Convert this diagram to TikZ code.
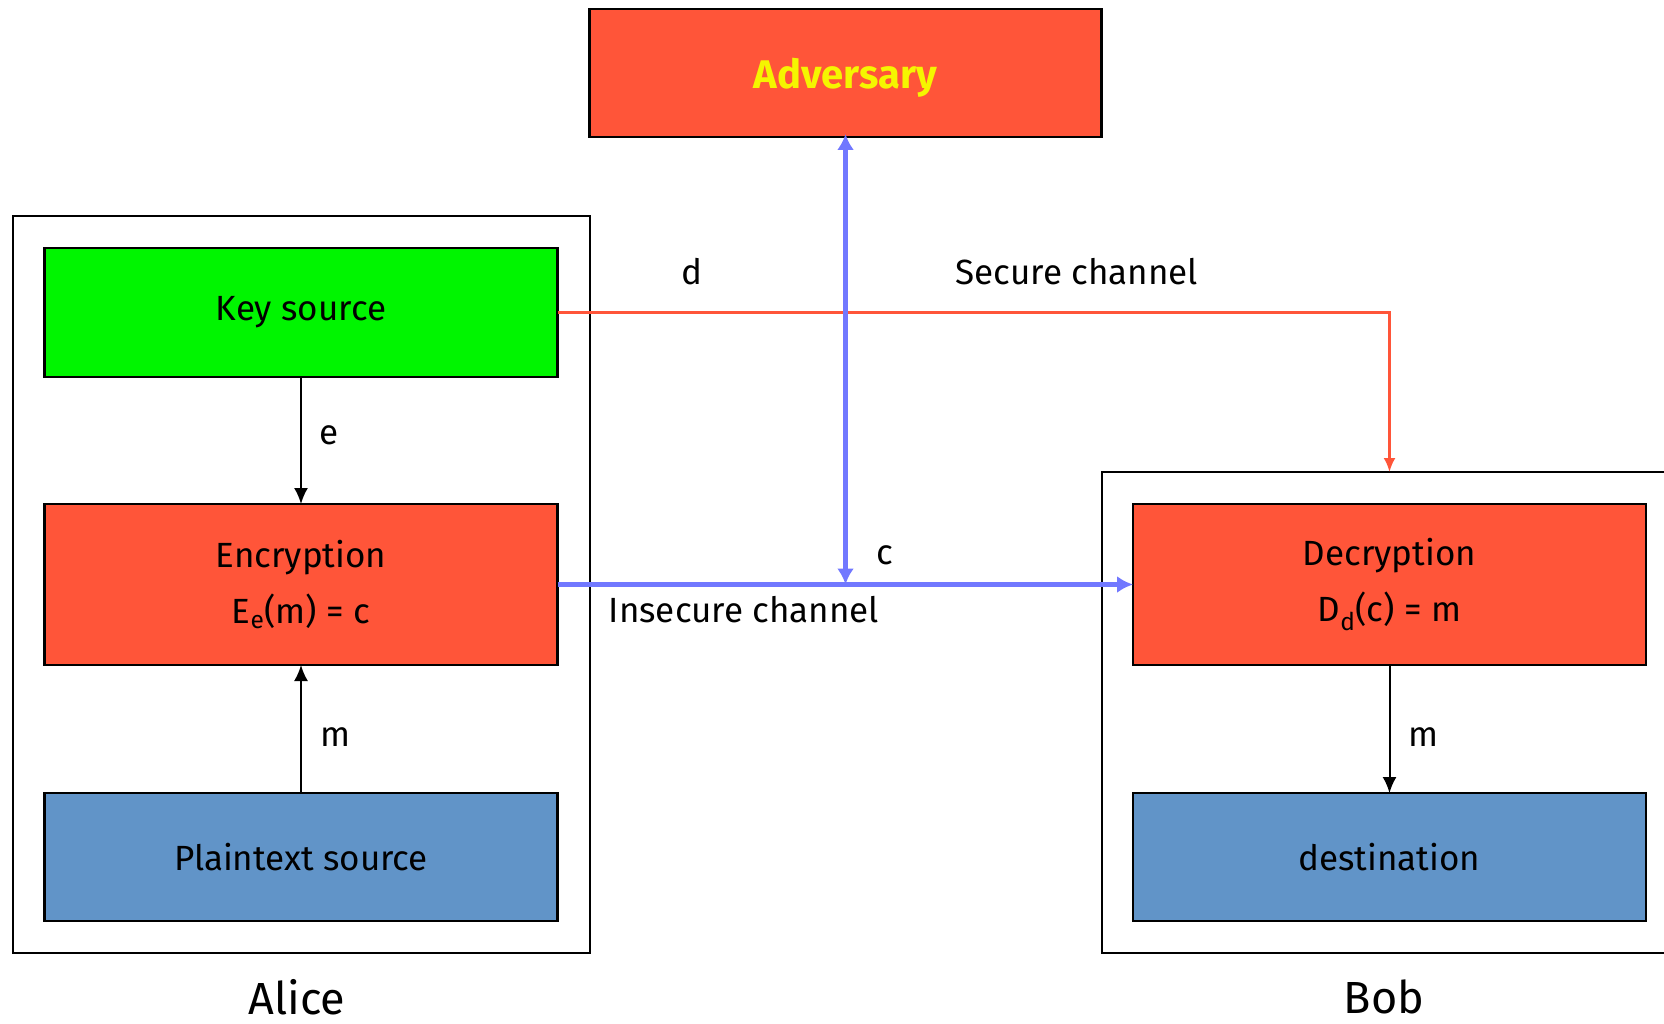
\documentclass[tikz,border=0pt]{standalone}
\usepackage{fontspec}
\setmainfont{Fira Sans}
\usetikzlibrary{arrows.meta}

\definecolor{boxred}{HTML}{FF5539}
\definecolor{boxgreen}{HTML}{00F500}
\definecolor{boxblue}{HTML}{6194C8}
\definecolor{chanblue}{HTML}{7178FF}
\definecolor{chanred}{HTML}{FF5539}
\definecolor{advyellow}{HTML}{F5F500}

\tikzset{
  block/.style={draw=black, line width=2.5pt, minimum width=513pt, inner sep=0pt, outer sep=0pt,
    align=center, font=\fontsize{35}{56}\selectfont},
  frame/.style={draw=black, line width=2pt},
  flow/.style={draw=black, line width=2pt, -{Latex[length=16pt,width=14pt]}},
  insecure/.style={draw=chanblue, line width=4.5pt, -{Latex[length=16pt,width=17pt]}},
  secure/.style={draw=chanred, line width=2.5pt, -{Latex[length=14pt,width=12pt]}},
  lbl/.style={font=\fontsize{35}{42}\selectfont, inner sep=0pt},
  party/.style={font=\fontsize{45}{50}\selectfont, inner sep=0pt},
}

\begin{document}
\begin{tikzpicture}[x=1pt, y=-1pt]
  \useasboundingbox (0,0) rectangle (1664,1024);

  % Alice's and Bob's enclosures
  \node[frame, minimum width=577pt, minimum height=736pt, inner sep=0pt] (alice) at (301.4,584.5) {};
  \draw[frame] (1664,472) -- (1101.5,472) -- (1101.5,953) -- (1664,953);
  \coordinate (bobtop) at (1389.5,472);

  % Components
  \node[block, fill=boxred, minimum width=512pt, minimum height=128pt] (adv) at (845.5,73) {};
  \node[text=advyellow, font=\fontsize{40}{48}\selectfont\bfseries, inner sep=0pt]
        (advtext) at ([yshift=-5pt]adv.center) {Adversary};
  \node[block, fill=boxgreen, minimum height=129pt] (key) at (301,312.5) {Key source};
  \node[block, fill=boxred, minimum height=161pt] (enc) at (301,584.5)
        {Encryption\\E\textsubscript{e}(m) = c};
  \node[block, fill=boxblue, minimum height=128pt] (plain) at (301,857) {Plaintext source};
  \node[block, fill=boxred, minimum height=161pt] (dec) at (1389.5,584.5)
        {Decryption\\D\textsubscript{d}(c) = m};
  \node[block, fill=boxblue, minimum height=128pt] (dest) at (1389.5,857) {destination};

  % Flows inside Alice and Bob
  \draw[flow] (key.south) -- (enc.north);
  \draw[flow] (plain.north) -- (enc.south);
  \draw[flow] (dec.south) -- (dest.north);

  % Secure key channel
  \draw[secure] (key.east) -| (bobtop);

  % Insecure channel and the adversary tap
  \draw[insecure] (enc.east) -- (dec.west);
  \coordinate (tap) at (adv.south |- enc.east);
  \draw[insecure, shorten <=-3pt,
        {Latex[length=16pt,width=17pt]}-{Latex[length=16pt,width=17pt]}] (adv.south) -- (tap);

  % Labels
  \node[lbl] (le) at (329,435) {e};
  \node[lbl] (lm1) at (335,737) {m};
  \node[lbl] (lm2) at (1423,737) {m};
  \node[lbl] (ld) at (692,272) {d};
  \node[lbl] (lsec) at (1077,272) {Secure channel};
  \node[lbl] (lc) at (885,555) {c};
  \node[lbl] (lins) at (744,610) {Insecure channel};

  \node[party] (nalice) at (297,997) {Alice};
  \node[party] (nbob) at (1384,997) {Bob};
\end{tikzpicture}
\end{document}
